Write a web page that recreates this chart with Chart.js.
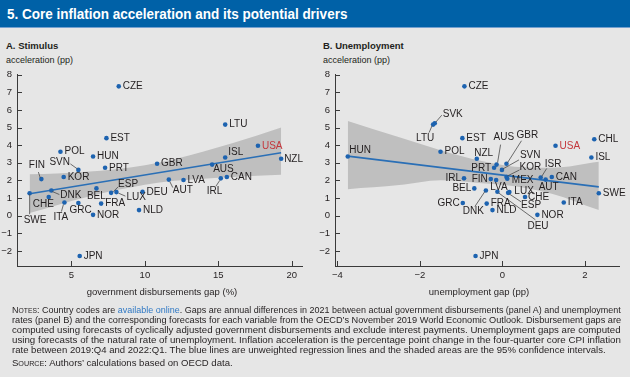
<!DOCTYPE html>
<html>
<head>
<meta charset="utf-8">
<script src="https://cdn.jsdelivr.net/npm/chart.js@4.4.1/dist/chart.umd.min.js"></script>
<style>
  body { margin: 0; width: 630px; height: 377px; background: #e6e6e6; position: relative; overflow: hidden;
         font-family: "Liberation Sans", Arial, sans-serif; color: #231f20; }
  #head { position: absolute; left: 0; top: 0; width: 630px; height: 27px; background: #0061a7; border-bottom: 1px solid #74a0cf; }
  .fit { position: absolute; white-space: nowrap; transform-origin: 0 50%; }
  #title { left: 7px; top: 5px; font: bold 15px "Liberation Sans Narrow", "Liberation Sans", sans-serif; color: #fff; line-height: 17px; }
  .ptitle { position: absolute; font-weight: bold; font-size: 9.5px; line-height: 11px; white-space: nowrap; }
  .yt { position: absolute; font-size: 9px; line-height: 11px; white-space: nowrap; }
  .xt { position: absolute; font-size: 9.5px; line-height: 11px; white-space: nowrap; transform: translateX(-50%); }
  .note { font-size: 9.3px; line-height: 10px; font-family: "Liberation Sans Narrow", "Liberation Sans", sans-serif; }
  .sc { font-variant: small-caps; }
  .link { color: #2f78c4; }
  canvas { position: absolute; }
</style>
</head>
<body>
<div id="head"><div id="title" class="fit" data-w="340">5. Core inflation acceleration and its potential drivers</div></div>

<div class="ptitle" style="left:6px;top:40px">A. Stimulus</div>
<div class="yt" style="left:6px;top:55px">acceleration (pp)</div>
<div class="ptitle" style="left:323px;top:40px">B. Unemployment</div>
<div class="yt" style="left:323px;top:55px">acceleration (pp)</div>

<canvas id="chartA" width="315" height="226" style="left:0;top:64px"></canvas>
<canvas id="chartB" width="312" height="226" style="left:318px;top:64px"></canvas>

<div class="xt" style="left:162px;top:286px">government disbursements gap (%)</div>
<div class="xt" style="left:479px;top:286px">unemployment gap (pp)</div>

<div class="fit note" data-w="609" style="left:12px;top:305px"><span class="sc">Notes:</span> Country codes are <span class="link">available online</span>. Gaps are annual differences in 2021 between actual government disbursements (panel A) and unemployment</div>
<div class="fit note" data-w="609" style="left:12px;top:315px">rates (panel B) and the corresponding forecasts for each variable from the OECD’s November 2019 World Economic Outlook. Disbursement gaps are</div>
<div class="fit note" data-w="609" style="left:12px;top:325px">computed using forecasts of cyclically adjusted government disbursements and exclude interest payments. Unemployment gaps are computed</div>
<div class="fit note" data-w="609" style="left:12px;top:335px">using forecasts of the natural rate of unemployment. Inflation acceleration is the percentage point change in the four-quarter core CPI inflation</div>
<div class="fit note" data-w="594" style="left:12px;top:344.5px">rate between 2019:Q4 and 2022:Q1. The blue lines are unweighted regression lines and the shaded areas are the 95% confidence intervals.</div>
<div class="fit note" data-w="221" style="left:12px;top:358px"><span class="sc">Source:</span> Authors’ calculations based on OECD data.</div>

<script>
// Data (same y variable in both panels)
const countries = ['CZE','SVK','LTU','EST','CHL','USA','POL','HUN','ISL','NZL','GBR','AUS','PRT','SVN','KOR','ISR','CAN','IRL','MEX','FIN','AUT','LVA','BEL','DNK','DEU','LUX','ESP','SWE','CHE','ITA','GRC','FRA','NLD','NOR','JPN'];
const accel = [7.34, 5.25, 5.17, 4.4, 4.34, 3.97, 3.63, 3.36, 3.3, 3.23, 2.95, 2.9, 2.72, 2.6, 2.2, 2.17, 2.2, 2.12, 2.1, 2.08, 2.05, 2.03, 1.55, 1.43, 1.36, 1.34, 1.3, 1.28, 1.06, 0.75, 0.72, 0.69, 0.32, 0.05, -2.28];
// panel A: government disbursements gap (%), null = not shown
const stimulusGap = [8.22, null, 15.47, 7.38, null, 17.7, 4.25, 6.47, 15.47, 19.28, 10.83, 14.58, 7.29, 5.47, 4.47, null, 15.58, 15.17, null, 2.95, 11.63, 12.63, 6.7, 3.63, 9.84, 8.06, 7.7, 2.15, 3.45, 4.52, 5.47, 7.02, 9.6, 6.47, 5.56];
// panel B: unemployment gap (pp)
const unemploymentGap = [-0.92, -1.64, -1.68, -0.97, 2.23, 1.29, -1.5, -3.75, 2.16, -0.62, 0.1, -0.14, -0.2, -0.01, 0.1, 0.93, 1.2, -0.93, 0.12, -0.28, 1.05, -0.15, -0.68, -0.4, -0.12, 0.17, 0.14, 2.34, 0.55, 1.49, -0.96, -0.38, -0.24, 0.85, -0.65];

const yTicks = [-2, -1, 0, 1, 2, 3, 4, 5, 6, 7, 8];
const xTicksA = [5, 10, 15, 20];
const xTicksB = [-4, -2, 0, 2];

// regression lines and 95% bands
const fitXA = [2.15, 19.28];
const fitYA = [1.25, 3.57];
const bandXA = [2.15, 4, 6, 8, 10, 12, 14, 16, 19.28];
const bandHiA = [2.35, 2.40, 2.49, 2.64, 2.86, 3.20, 3.65, 4.12, 5.0];
const bandLoA = [0.15, 0.60, 1.05, 1.44, 1.76, 1.98, 2.10, 2.20, 2.33];
const fitXB = [-3.75, 2.34];
const fitYB = [3.38, 1.64];
const bandXB = [-3.75, -2.5, -1.5, -0.5, 0.3, 1.2, 2.34];
const bandHiB = [5.38, 4.45, 3.72, 3.10, 2.78, 2.72, 3.06];
const bandLoB = [1.51, 1.74, 2.02, 1.85, 1.68, 1.25, 0.32];

// label placement (pixels relative to the dot), default is right of the dot
const labelStylesA = {
  ISL: {dx: 3, dy: -5}, NZL: {dx: 3, dy: 0}, AUS: {dx: 1, dy: 5},
  IRL: {dx: -14, dy: 13, leader: [-1, 2, -5, 8]},
  AUT: {dx: 4, dy: 11, leader: [1, 2, 4, 8]},
  LUX: {dx: 10, dy: 5, leader: [2, 1, 9, 4]},
  ESP: {dx: 7, dy: -9, leader: [2, -1, 7, -6]},
  BEL: {dx: -9.5, dy: 8}, GRC: {dx: -9, dy: 7.5}, CHE: {dx: -16, dy: 7.5},
  ITA: {dx: -11, dy: 15, leader: [-1, 2, -3, 9]},
  DNK: {dx: 9, dy: 5, leader: [1, 1, 8, 4]},
  SWE: {dx: -6, dy: 27, leader: [0, 1, 0, 21]},
  FIN: {dx: -12.5, dy: -13.5, leader: [-1, -1, -3, -7]},
  SVN: {dx: -29, dy: -7.5, leader: [-1, -1, -8, -6]}
};
const labelStylesB = {
  SVK: {dx: 8, dy: -9, leader: [1, -1, 7, -8]},
  LTU: {dx: -17, dy: 14, leader: [-1, 1, -4, 8]},
  HUN: {dx: 1.5, dy: -6}, NZL: {dx: -2.5, dy: -6},
  PRT: {align: 'right', dx: -3, dy: 0},
  AUS: {dx: -3, dy: -27, leader: [1, -2, 4, -20]},
  GBR: {dx: 10, dy: -28, leader: [1, -1, 15, -23]},
  SVN: {dx: 18, dy: -15, leader: [1, -1, 17, -10]},
  KOR: {dx: 13, dy: -9.5, leader: [1, -1, 13, -7]},
  MEX: {dx: 4.5, dy: 2},
  FIN: {align: 'right', dx: -3, dy: 0}, IRL: {align: 'right', dx: -3, dy: 0},
  LVA: {dx: -6, dy: 7}, LUX: {dx: 5, dy: -1},
  ESP: {dx: 13, dy: 12, leader: [1, 1, 13, 9]},
  CHE: {dx: 3, dy: 0},
  DEU: {dx: 30, dy: 34, leader: [1, 1, 38, 28]},
  DNK: {dx: -23, dy: 21, leader: [-1, 1, -11, 16]},
  BEL: {align: 'right', dx: -3, dy: 0}, GRC: {align: 'right', dx: -3, dy: 0},
  ISR: {dx: 4, dy: -13, leader: [1, -1, 6, -9]},
  AUT: {dx: -7, dy: 8}
};

const INK = '#231f20';
const BLUE_DOT = '#1d63b0';
const BLUE_LINE = '#2a6fb6';
const BAND = '#bfbfbf';
const RED = '#c4373c';

// draws country codes (and leader lines) next to the scatter points
const labelPlugin = {
  id: 'countryLabels',
  afterDatasetsDraw(chart, args, opts) {
    const meta = chart.getDatasetMeta(0);
    const ctx = chart.ctx;
    ctx.save();
    ctx.font = '10px "Liberation Sans", Arial, sans-serif';
    ctx.textBaseline = 'middle';
    ctx.lineWidth = 0.8;
    ctx.strokeStyle = '#4a4a4a';
    meta.data.forEach((pt, i) => {
      const code = opts.codes[i];
      const s = opts.styles[code] || {};
      if (s.leader) {
        ctx.beginPath();
        ctx.moveTo(pt.x + s.leader[0], pt.y + s.leader[1]);
        ctx.lineTo(pt.x + s.leader[2], pt.y + s.leader[3]);
        ctx.stroke();
      }
      ctx.fillStyle = code === 'USA' ? RED : INK;
      ctx.textAlign = s.align || 'left';
      ctx.fillText(code, pt.x + (s.dx ?? 4), pt.y + (s.dy ?? 0));
    });
    ctx.restore();
  }
};

// inward tick marks like the original
const innerTicks = {
  id: 'innerTicks',
  afterDraw(chart) {
    const {ctx, chartArea, scales: {x, y}} = chart;
    ctx.save();
    ctx.strokeStyle = '#3a3a3a';
    ctx.lineWidth = 1;
    ctx.beginPath();
    y.ticks.forEach(t => {
      const py = Math.round(y.getPixelForValue(t.value)) + 0.5;
      ctx.moveTo(chartArea.left, py);
      ctx.lineTo(chartArea.left + 5, py);
    });
    x.ticks.forEach(t => {
      const px = Math.round(x.getPixelForValue(t.value)) + 0.5;
      ctx.moveTo(px, chartArea.bottom);
      ctx.lineTo(px, chartArea.bottom - 5);
    });
    ctx.stroke();
    ctx.restore();
  }
};

const fmt = v => String(v).replace('-', '\u2212');
const tickFont = {family: '"Liberation Sans", Arial, sans-serif', size: 9.5};

function makePanel(id, xs, xmin, xmax, xTicks, fitX, fitY, bandX, bandHi, bandLo, styles, rightPad) {
  const pts = [], codes = [];
  countries.forEach((c, i) => {
    if (xs[i] !== null) { pts.push({x: xs[i], y: accel[i]}); codes.push(c); }
  });
  new Chart(document.getElementById(id), {
    type: 'scatter',
    data: {
      datasets: [
        {data: pts, pointRadius: 2.3, pointBackgroundColor: BLUE_DOT, pointBorderWidth: 0, order: 0},
        {type: 'line', data: fitX.map((v, i) => ({x: v, y: fitY[i]})), borderColor: BLUE_LINE, borderWidth: 1.6,
         pointRadius: 0, fill: false, order: 1},
        {type: 'line', data: bandX.map((v, i) => ({x: v, y: bandHi[i]})), borderWidth: 0, pointRadius: 0,
         backgroundColor: BAND, fill: '+1', cubicInterpolationMode: 'monotone', order: 2},
        {type: 'line', data: bandX.map((v, i) => ({x: v, y: bandLo[i]})), borderWidth: 0, pointRadius: 0,
         fill: false, cubicInterpolationMode: 'monotone', order: 3}
      ]
    },
    options: {
      responsive: false,
      animation: false,
      layout: {padding: {top: 10, right: rightPad, left: 0, bottom: 0}},
      scales: {
        x: {
          type: 'linear', min: xmin, max: xmax,
          afterBuildTicks: s => { s.ticks = xTicks.map(v => ({value: v})); },
          afterFit: s => { s.height = 24; },
          grid: {display: false, drawTicks: false},
          border: {display: true, color: '#3a3a3a', width: 1},
          ticks: {padding: 4, color: INK, font: tickFont, callback: fmt, maxRotation: 0}
        },
        y: {
          type: 'linear', min: -2.85, max: 8,
          afterBuildTicks: s => { s.ticks = yTicks.map(v => ({value: v})); },
          afterFit: s => { s.width = 17; },
          grid: {display: false, drawTicks: false},
          border: {display: true, color: '#3a3a3a', width: 1},
          ticks: {padding: 5, color: INK, font: tickFont, callback: fmt}
        }
      },
      plugins: {
        legend: {display: false},
        tooltip: {enabled: false},
        countryLabels: {codes: codes, styles: styles}
      }
    },
    plugins: [labelPlugin, innerTicks]
  });
}

makePanel('chartA', stimulusGap, 1.29, 20.7, xTicksA, fitXA, fitYA, bandXA, bandHiA, bandLoA, labelStylesA, 13);
makePanel('chartB', unemploymentGap, -4.06, 2.83, xTicksB, fitXB, fitYB, bandXB, bandHiB, bandLoB, labelStylesB, 11);

// squeeze header and note lines to the widths they have in the original
document.querySelectorAll('.fit').forEach(el => {
  const w = parseFloat(el.dataset.w);
  el.style.transform = 'scaleX(' + (w / el.offsetWidth) + ')';
});
</script>
</body>
</html>
